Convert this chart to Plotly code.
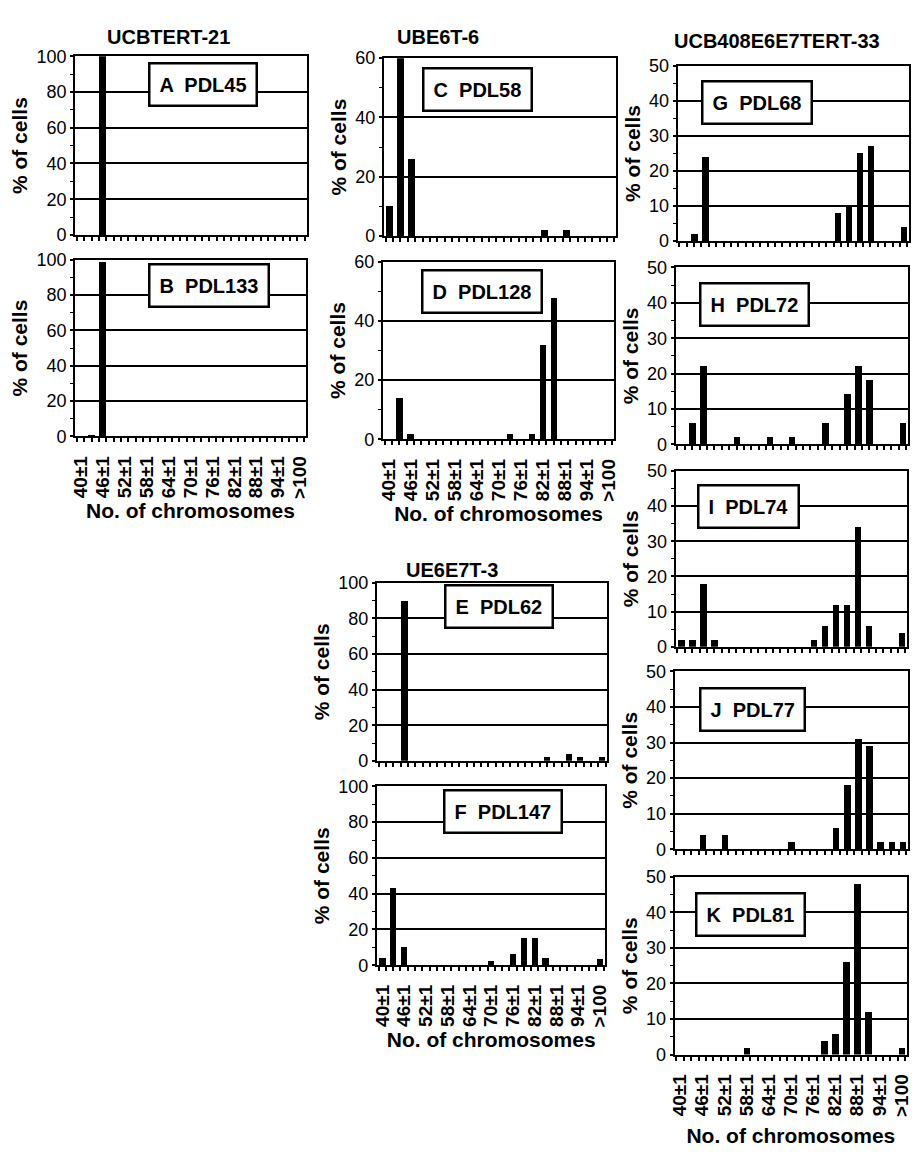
import plotly.graph_objects as go

# ---- data ----
bin_centers = [40, 43, 46, 49, 52, 55, 58, 61, 64, 67, 70, 73, 76, 79, 82, 85, 88, 91, 94, 97, 100]
tick_vals = [40, 46, 52, 58, 64, 70, 76, 82, 88, 94, 100]
tick_text = ["40±1", "46±1", "52±1", "58±1", "64±1", "70±1", "76±1", "82±1", "88±1", "94±1", ">100"]

pdl45 = [0, 0, 100, 0, 0, 0, 0, 0, 0, 0, 0, 0, 0, 0, 0, 0, 0, 0, 0, 0, 0]
pdl133 = [0, 1, 99, 0, 0, 0, 0, 0, 0, 0, 0, 0, 0, 0, 0, 0, 0, 0, 0, 0, 0]
pdl58 = [10, 60, 26, 0, 0, 0, 0, 0, 0, 0, 0, 0, 0, 0, 2, 0, 2, 0, 0, 0, 0]
pdl128 = [0, 14, 2, 0, 0, 0, 0, 0, 0, 0, 0, 2, 0, 2, 32, 48, 0, 0, 0, 0, 0]
pdl62 = [0, 0, 90, 0, 0, 0, 0, 0, 0, 0, 0, 0, 0, 0, 0, 2, 0, 4, 2, 0, 2]
pdl147 = [4, 43, 10, 0, 0, 0, 0, 0, 0, 0, 2, 0, 6, 15, 15, 4, 0, 0, 0, 0, 3]
pdl68 = [0, 2, 24, 0, 0, 0, 0, 0, 0, 0, 0, 0, 0, 0, 8, 10, 25, 27, 0, 0, 4]
pdl72 = [0, 6, 22, 0, 0, 2, 0, 0, 2, 0, 2, 0, 0, 6, 0, 14, 22, 18, 0, 0, 6]
pdl74 = [2, 2, 18, 2, 0, 0, 0, 0, 0, 0, 0, 0, 2, 6, 12, 12, 34, 6, 0, 0, 4]
pdl77 = [0, 0, 4, 0, 4, 0, 0, 0, 0, 0, 2, 0, 0, 0, 6, 18, 31, 29, 2, 2, 2]
pdl81 = [0, 0, 0, 0, 0, 0, 2, 0, 0, 0, 0, 0, 0, 4, 6, 26, 48, 12, 0, 0, 2]

panel_labels = ["A  PDL45", "B  PDL133", "C  PDL58", "D  PDL128", "E  PDL62", "F  PDL147",
                "G  PDL68", "H  PDL72", "I  PDL74", "J  PDL77", "K  PDL81"]
panel_values = [pdl45, pdl133, pdl58, pdl128, pdl62, pdl147, pdl68, pdl72, pdl74, pdl77, pdl81]
panel_ymax = [100, 100, 60, 60, 100, 100, 50, 50, 50, 50, 50]
column_titles = ["UCBTERT-21", "UBE6T-6", "UE6E7T-3", "UCB408E6E7TERT-33"]
y_title = "% of cells"
x_title = "No. of chromosomes"

# ---- layout (pixel boxes: left, right, top, bottom) ----
W, H = 920, 1157
boxes = [
    (71, 305, 47, 229), (71, 304, 254, 434),
    (383, 618, 49, 230), (382, 616, 256, 437),
    (376, 609, 583, 764), (376, 607, 790, 972),
    (680, 914, 57, 235), (678, 913, 262, 442), (678, 912, 469, 648),
    (677, 913, 673, 854), (677, 912, 882, 1063),
]
label_boxes_center = [
    (200, 76), (206, 280), (478, 81), (482, 286), (499, 607), (503, 816),
    (760, 94), (758, 300), (752, 505), (756, 712), (754, 920),
]
show_xlabels = [False, True, False, True, False, True, False, False, False, False, True]
xtitle_standoff = {1: 2, 3: 4, 5: 4, 10: 12}
title_pos = [(165, 27), (438, 27), (452, 570), (780, 32)]

FONT = "Arial, Liberation Sans, sans-serif"
fig = go.Figure()
layout = dict(
    width=W, height=H, margin=dict(l=0, r=0, t=0, b=0),
    paper_bgcolor="white", plot_bgcolor="white", showlegend=False,
    font=dict(family=FONT, color="black"), bargap=0,
)
annotations = []

for k, (vals, ymax) in enumerate(zip(panel_values, panel_ymax)):
    n = "" if k == 0 else str(k + 1)
    fig.add_trace(go.Bar(x=bin_centers, y=vals, width=1.75, marker=dict(color="black", line=dict(width=0)),
                         xaxis="x" + n, yaxis="y" + n))
    l, r, t, b = boxes[k]
    dtick = 10 if ymax == 50 else 20
    xa = dict(
        domain=[l / W, r / W], anchor="y" + n, range=[38.5, 101.5],
        showline=True, linecolor="black", linewidth=2, mirror=True,
        showgrid=False, zeroline=False,
        tickmode="array", tickvals=tick_vals, ticktext=tick_text if show_xlabels[k] else [""] * len(tick_vals),
        ticks="", tickangle=-90, tickfont=dict(size=19, family=FONT, weight="bold"),
        ticklabelstandoff=10,
        minor=dict(ticks="outside", ticklen=4, tickwidth=1.5, tickcolor="black", tick0=39, dtick=2, showgrid=False),
    )
    if show_xlabels[k]:
        xa["title"] = dict(text="<b>%s</b>" % x_title, font=dict(size=21, family=FONT),
                           standoff=xtitle_standoff[k])
    ya = dict(
        domain=[1 - b / H, 1 - t / H], anchor="x" + n, range=[0, ymax],
        showline=True, linecolor="black", linewidth=2, mirror=True,
        showgrid=True, gridcolor="black", gridwidth=1.5, zeroline=False,
        dtick=dtick, tick0=0, ticks="outside", ticklen=3, tickwidth=1.5, tickcolor="black",
        tickfont=dict(size=18, family=FONT),
        minor=dict(ticks="outside", ticklen=3, tickwidth=1, tickcolor="black", dtick=dtick / 2, showgrid=False),
        title=dict(text="<b>%s</b>" % y_title, font=dict(size=21, family=FONT), standoff=3),
    )
    layout["xaxis" + n] = xa
    layout["yaxis" + n] = ya
    cx, cy = label_boxes_center[k]
    annotations.append(dict(
        text="<b>%s</b>" % panel_labels[k], x=cx / W, y=1 - cy / H, xref="paper", yref="paper",
        showarrow=False, xanchor="center", yanchor="middle",
        font=dict(size=20, family=FONT, color="black"),
        bgcolor="white", bordercolor="black", borderwidth=2.5, borderpad=9,
    ))

for txt, (px, py) in zip(column_titles, title_pos):
    annotations.append(dict(
        text="<b>%s</b>" % txt, x=px / W, y=1 - py / H, xref="paper", yref="paper",
        showarrow=False, xanchor="center", yanchor="middle",
        font=dict(size=20, family=FONT, color="black"),
    ))

layout["annotations"] = annotations
fig.update_layout(**layout)
fig.write_html("out.html", config={"displayModeBar": False},
               post_script="document.body.style.margin='0px';document.body.style.overflow='hidden';")
